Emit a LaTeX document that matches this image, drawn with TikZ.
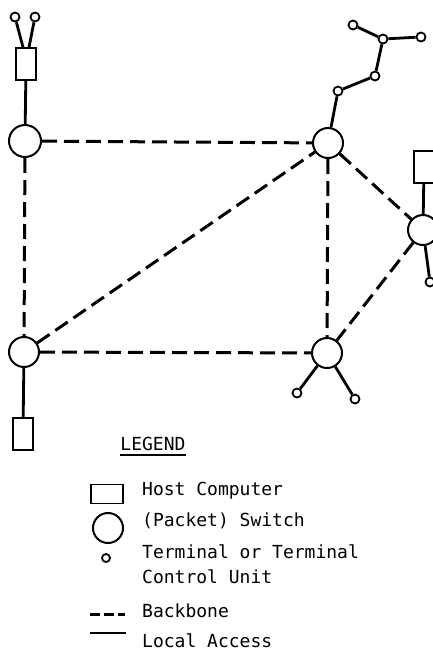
\documentclass[tikz,border=0pt]{standalone}
\usepackage{fontspec}
\newfontfamily\legendfont{DejaVu Sans Mono}
\usetikzlibrary{calc}
\tikzset{
  switchnode/.style={circle,draw,line width=2pt,minimum size=#1,inner sep=0pt},
  switchnode/.default=30pt,
  hostnode/.style={rectangle,draw,line width=1.6pt,minimum width=20pt,minimum height=32pt,inner sep=0pt},
  termnode/.style={circle,draw,line width=1.8pt,minimum size=9pt,inner sep=0pt},
  backbone/.style={line width=3pt,dash pattern=on 15pt off 7pt},
  localaccess/.style={line width=2.8pt},
  legendtext/.style={anchor=west,inner sep=0pt,font=\legendfont\fontsize{18}{20}\selectfont},
}
\begin{document}
\begin{tikzpicture}[x=1pt,y=-1pt]
\clip (0,0) rectangle (433,651);
\useasboundingbox (0,0) rectangle (433,651);
% switches
\node[switchnode=32pt] (sA) at (25,141) {};
\node[switchnode] (sB) at (328,143) {};
\node[switchnode] (sC) at (423,230) {};
\node[switchnode] (sD) at (327,353) {};
\node[switchnode] (sE) at (24,352) {};
% hosts
\node[hostnode] (hA) at (26,64) {};
\node[hostnode] (hC) at (424,167) {};
\node[hostnode] (hE) at (23,434) {};
% terminals
\node[termnode] (tA1) at (15,17) {};
\node[termnode] (tA2) at (35,17) {};
\node[termnode] (t1) at (338,91) {};
\node[termnode] (t2) at (375,76) {};
\node[termnode] (t3) at (383,39) {};
\node[termnode] (t4) at (353,25) {};
\node[termnode] (t5) at (421,37) {};
\node[termnode] (tC) at (430,282) {};
\node[termnode] (tD1) at (297,393) {};
\node[termnode] (tD2) at (355,399) {};
% backbone
\draw[backbone] (sA) -- (sB);
\draw[backbone] (sA) -- (sE);
\draw[backbone] (sE) -- (sB);
\draw[backbone] (sE) -- (sD);
\draw[backbone] (sB) -- (sD);
\draw[backbone] (sB) -- (sC);
\draw[backbone] (sC) -- (sD);
% local access
\coordinate (hAl) at ($(hA.north)+(-3,0)$);
\coordinate (hAr) at ($(hA.north)+(3,0)$);
\draw[localaccess] (tA1) -- (hAl);
\draw[localaccess] (tA2) -- (hAr);
\draw[localaccess] (hA) -- (sA);
\draw[localaccess] (sB) -- (t1);
\draw[localaccess] (t1) -- (t2);
\draw[localaccess] (t2) -- (t3);
\draw[localaccess] (t3) -- (t4);
\draw[localaccess] (t3) -- (t5);
\draw[localaccess] (hC) -- (sC);
\draw[localaccess] (sC) -- (tC);
\draw[localaccess] (sD) -- (tD1);
\draw[localaccess] (sD) -- (tD2);
\draw[localaccess] (sE) -- (hE);
% legend
\node[legendtext,anchor=center] (leg) at (153,444) {LEGEND};
\draw[line width=1.4pt] (leg.south west)++(0,4) coordinate (ul1) -- (ul1-|leg.south east);
\node[hostnode,minimum width=32pt,minimum height=19pt] (lh) at (107,494) {};
\node[switchnode] (ls) at (108,528) {};
\node[termnode,minimum size=8pt] (lt) at (106,558) {};
\coordinate (lb1) at (90,614);
\coordinate (lb2) at (125,614);
\draw[backbone,dash pattern=on 10pt off 4pt] (lb1) -- (lb2);
\coordinate (ll1) at (90,633);
\coordinate (ll2) at (126,633);
\draw[localaccess] (ll1) -- (ll2);
\node[legendtext] (txh) at (142,491) {Host Computer};
\node[legendtext] (txs) at (142,521) {(Packet) Switch};
\node[legendtext] (txt) at (142,552) {Terminal or Terminal};
\node[legendtext] (txc) at (142,577) {Control Unit};
\node[legendtext] (txb) at (142,611) {Backbone};
\node[legendtext] (txl) at (142,641) {Local Access};
\end{tikzpicture}
\end{document}
